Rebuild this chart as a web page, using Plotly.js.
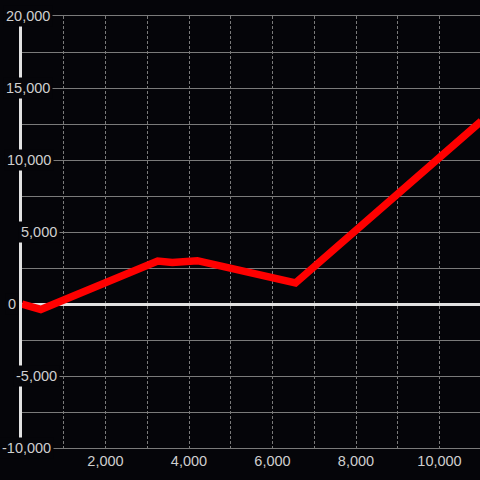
<!DOCTYPE html>
<html>
<head>
<meta charset="utf-8">
<script src="https://cdn.plot.ly/plotly-3.0.1.min.js"></script>
<style>html,body{margin:0;padding:0;background:#050509;}#chart{width:480px;height:480px;}</style>
</head>
<body>
<div id="chart"></div>
<script>
// ---- data ----
const xValues = [0, 450, 3250, 3600, 4200, 6550, 11000];
const yValues = [0, -380, 2980, 2880, 3010, 1460, 12700];
const xTickValues = [2000, 4000, 6000, 8000, 10000];
const xTickLabels = ['2,000', '4,000', '6,000', '8,000', '10,000'];
const yTickValues = [20000, 15000, 10000, 5000, 0, -5000, -10000];
const yTickLabels = ['20,000', '15,000', '10,000', '5,000', '0', '-5,000', '-10,000'];

// ---- layout helpers ----
const W = 480, H = 480;
const mL = 22, mR = 0, mT = 16, mB = 32;
const plotW = W - mL - mR;
const labelRight = {'20000': 53, '15000': 53, '10000': 54, '5000': 60, '0': 19, '-5000': 60, '-10000': 54};
const bg = '#050509';
const txt = '#cfcfcf';
const grid = '#7a7a7a';

const annotations = yTickValues.map((v, i) => ({
  xref: 'paper', yref: 'y',
  x: (labelRight[String(v)] - mL) / plotW,
  y: v,
  xanchor: 'right', yanchor: 'middle',
  text: yTickLabels[i],
  showarrow: false,
  bgcolor: bg,
  borderpad: 2,
  font: {family: 'Liberation Sans, Arial, sans-serif', size: 14.5, color: txt}
}));

const trace = {
  type: 'scatter', mode: 'lines',
  x: xValues, y: yValues,
  line: {color: '#ff0000', width: 7.5},
  hoverinfo: 'skip'
};

const layout = {
  width: W, height: H,
  margin: {l: mL, r: mR, t: mT, b: mB, pad: 0},
  paper_bgcolor: bg, plot_bgcolor: bg,
  showlegend: false,
  font: {family: 'Liberation Sans, Arial, sans-serif', size: 14.5, color: txt},
  xaxis: {
    range: [0, 10970],
    tickmode: 'array', tickvals: xTickValues, ticktext: xTickLabels,
    showgrid: true, gridcolor: grid, gridwidth: 1, griddash: '3px,2px',
    minor: {tickmode: 'linear', tick0: 0, dtick: 1000, showgrid: true, gridcolor: grid, gridwidth: 1, griddash: '3px,2px'},
    zeroline: false,
    showline: true, mirror: true, linecolor: grid, linewidth: 1,
    ticks: '', ticklen: 0,
    tickfont: {size: 14.5, color: txt}
  },
  yaxis: {
    range: [-10000, 20000],
    tick0: 0, dtick: 5000,
    showticklabels: false,
    showgrid: true, gridcolor: grid, gridwidth: 1,
    minor: {dtick: 2500, showgrid: true, gridcolor: grid, gridwidth: 1},
    zeroline: true, zerolinecolor: '#e2e2e2', zerolinewidth: 3,
    showline: true, linecolor: '#e2e2e2', linewidth: 3,
    ticks: ''
  },
  annotations: annotations
};

Plotly.newPlot('chart', [trace], layout, {displayModeBar: false, staticPlot: true});
</script>
</body>
</html>
